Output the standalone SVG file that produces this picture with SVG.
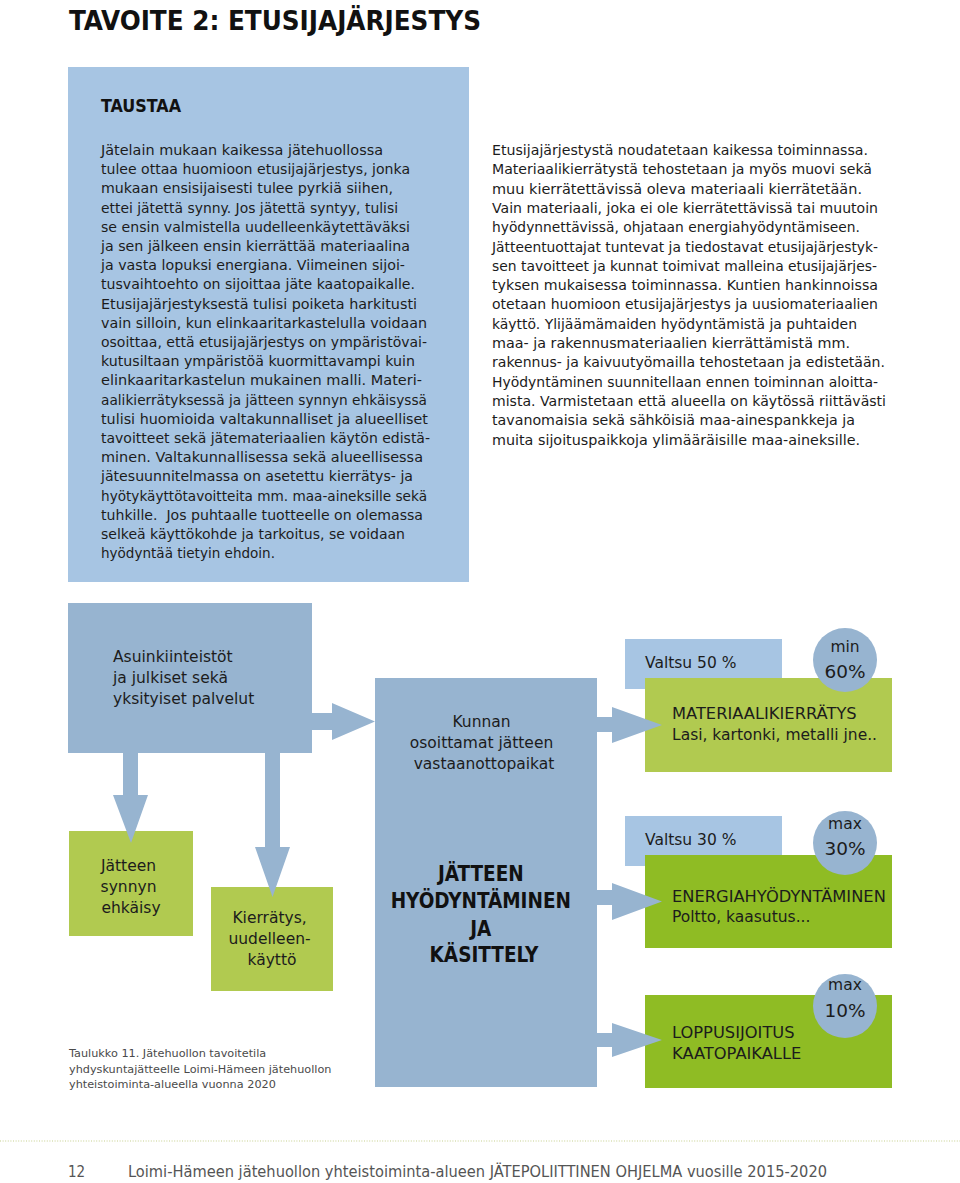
<svg xmlns="http://www.w3.org/2000/svg" width="960" height="1183" viewBox="0 0 960 1183">
<style>
  .body { font-family: "DejaVu Sans", "Liberation Sans", sans-serif; font-size: 14.3px; fill: #1c1c1c; }
  .head { font-family: "DejaVu Sans Condensed", "DejaVu Sans", sans-serif; font-weight: bold; fill: #111; }
  .lbl { font-family: "DejaVu Sans", "Liberation Sans", sans-serif; font-size: 15.5px; fill: #1c1c1c; }
  .cap { font-family: "DejaVu Sans", "Liberation Sans", sans-serif; font-size: 16.3px; fill: #1c1c1c; }
  .big { font-family: "DejaVu Sans Condensed", "DejaVu Sans", sans-serif; font-weight: bold; font-size: 20.5px; fill: #111; }
  .pct { font-family: "DejaVu Sans", "Liberation Sans", sans-serif; font-size: 18.5px; fill: #1c1c1c; }
  .small { font-family: "DejaVu Sans", "Liberation Sans", sans-serif; font-size: 11.25px; fill: #4a4a4a; }
  .foot { font-family: "DejaVu Sans Condensed", "DejaVu Sans", sans-serif; font-size: 15px; fill: #555; }
  .blue { fill: #97b4d0; }
  .lblue { fill: #a7c5e3; }
  .g1 { fill: #b1ca50; }
  .g2 { fill: #8fbc24; }
  .mid { text-anchor: middle; }
</style>

<text class="head" x="69" y="30" font-size="27.4" textLength="412" lengthAdjust="spacingAndGlyphs">TAVOITE 2: ETUSIJAJÄRJESTYS</text>

<g id="taustaa">
  <rect class="lblue" x="68" y="67" width="401" height="515"/>
  <text class="head" x="101" y="111.5" font-size="17" textLength="80" lengthAdjust="spacingAndGlyphs">TAUSTAA</text>
  <text class="body" x="101" y="155" textLength="282" lengthAdjust="spacingAndGlyphs">Jätelain mukaan kaikessa jätehuollossa</text>
  <text class="body" x="101" y="174.2" textLength="309" lengthAdjust="spacingAndGlyphs">tulee ottaa huomioon etusijajärjestys, jonka</text>
  <text class="body" x="101" y="193.4" textLength="292" lengthAdjust="spacingAndGlyphs">mukaan ensisijaisesti tulee pyrkiä siihen,</text>
  <text class="body" x="101" y="212.6" textLength="297" lengthAdjust="spacingAndGlyphs">ettei jätettä synny. Jos jätettä syntyy, tulisi</text>
  <text class="body" x="101" y="231.8" textLength="309" lengthAdjust="spacingAndGlyphs">se ensin valmistella uudelleenkäytettäväksi</text>
  <text class="body" x="101" y="251" textLength="309" lengthAdjust="spacingAndGlyphs">ja sen jälkeen ensin kierrättää materiaalina</text>
  <text class="body" x="101" y="270.2" textLength="304" lengthAdjust="spacingAndGlyphs">ja vasta lopuksi energiana. Viimeinen sijoi-</text>
  <text class="body" x="101" y="289.4" textLength="314" lengthAdjust="spacingAndGlyphs">tusvaihtoehto on sijoittaa jäte kaatopaikalle.</text>
  <text class="body" x="101" y="308.6" textLength="316" lengthAdjust="spacingAndGlyphs">Etusijajärjestyksestä tulisi poiketa harkitusti</text>
  <text class="body" x="101" y="327.8" textLength="326" lengthAdjust="spacingAndGlyphs">vain silloin, kun elinkaaritarkastelulla voidaan</text>
  <text class="body" x="101" y="347" textLength="326" lengthAdjust="spacingAndGlyphs">osoittaa, että etusijajärjestys on ympäristövai-</text>
  <text class="body" x="101" y="366.2" textLength="314" lengthAdjust="spacingAndGlyphs">kutusiltaan ympäristöä kuormittavampi kuin</text>
  <text class="body" x="101" y="385.4" textLength="321" lengthAdjust="spacingAndGlyphs">elinkaaritarkastelun mukainen malli. Materi-</text>
  <text class="body" x="101" y="404.6" textLength="326" lengthAdjust="spacingAndGlyphs">aalikierrätyksessä ja jätteen synnyn ehkäisyssä</text>
  <text class="body" x="101" y="423.8" textLength="327" lengthAdjust="spacingAndGlyphs">tulisi huomioida valtakunnalliset ja alueelliset</text>
  <text class="body" x="101" y="443" textLength="329" lengthAdjust="spacingAndGlyphs">tavoitteet sekä jätemateriaalien käytön edistä-</text>
  <text class="body" x="101" y="462.2" textLength="322" lengthAdjust="spacingAndGlyphs">minen. Valtakunnallisessa sekä alueellisessa</text>
  <text class="body" x="101" y="481.4" textLength="312" lengthAdjust="spacingAndGlyphs">jätesuunnitelmassa on asetettu kierrätys- ja</text>
  <text class="body" x="101" y="500.6" textLength="326" lengthAdjust="spacingAndGlyphs">hyötykäyttötavoitteita mm. maa-aineksille sekä</text>
  <text class="body" x="101" y="519.8" textLength="322" lengthAdjust="spacingAndGlyphs" xml:space="preserve">tuhkille.  Jos puhtaalle tuotteelle on olemassa</text>
  <text class="body" x="101" y="539" textLength="304" lengthAdjust="spacingAndGlyphs">selkeä käyttökohde ja tarkoitus, se voidaan</text>
  <text class="body" x="101" y="558.2" textLength="174" lengthAdjust="spacingAndGlyphs">hyödyntää tietyin ehdoin.</text>
</g>

<g id="body-right">
  <text class="body" x="492" y="155" textLength="376" lengthAdjust="spacingAndGlyphs">Etusijajärjestystä noudatetaan kaikessa toiminnassa.</text>
  <text class="body" x="492" y="174.3" textLength="380" lengthAdjust="spacingAndGlyphs">Materiaalikierrätystä tehostetaan ja myös muovi sekä</text>
  <text class="body" x="492" y="193.6" textLength="370" lengthAdjust="spacingAndGlyphs">muu kierrätettävissä oleva materiaali kierrätetään.</text>
  <text class="body" x="492" y="212.9" textLength="386" lengthAdjust="spacingAndGlyphs">Vain materiaali, joka ei ole kierrätettävissä tai muutoin</text>
  <text class="body" x="492" y="232.2" textLength="368" lengthAdjust="spacingAndGlyphs">hyödynnettävissä, ohjataan energiahyödyntämiseen.</text>
  <text class="body" x="492" y="251.5" textLength="386" lengthAdjust="spacingAndGlyphs">Jätteentuottajat tuntevat ja tiedostavat etusijajärjestyk-</text>
  <text class="body" x="492" y="270.8" textLength="385" lengthAdjust="spacingAndGlyphs">sen tavoitteet ja kunnat toimivat malleina etusijajärjes-</text>
  <text class="body" x="492" y="290.1" textLength="386" lengthAdjust="spacingAndGlyphs">tyksen mukaisessa toiminnassa. Kuntien hankinnoissa</text>
  <text class="body" x="492" y="309.4" textLength="386" lengthAdjust="spacingAndGlyphs">otetaan huomioon etusijajärjestys ja uusiomateriaalien</text>
  <text class="body" x="492" y="328.7" textLength="365" lengthAdjust="spacingAndGlyphs">käyttö. Ylijäämämaiden hyödyntämistä ja puhtaiden</text>
  <text class="body" x="492" y="348" textLength="358" lengthAdjust="spacingAndGlyphs">maa- ja rakennusmateriaalien kierrättämistä mm.</text>
  <text class="body" x="492" y="367.3" textLength="393" lengthAdjust="spacingAndGlyphs">rakennus- ja kaivuutyömailla tehostetaan ja edistetään.</text>
  <text class="body" x="492" y="386.6" textLength="386" lengthAdjust="spacingAndGlyphs">Hyödyntäminen suunnitellaan ennen toiminnan aloitta-</text>
  <text class="body" x="492" y="405.9" textLength="394" lengthAdjust="spacingAndGlyphs">mista. Varmistetaan että alueella on käytössä riittävästi</text>
  <text class="body" x="492" y="425.2" textLength="363" lengthAdjust="spacingAndGlyphs">tavanomaisia sekä sähköisiä maa-ainespankkeja ja</text>
  <text class="body" x="492" y="444.5" textLength="368" lengthAdjust="spacingAndGlyphs">muita sijoituspaikkoja ylimääräisille maa-aineksille.</text>
</g>

<g id="asuinkiinteistot">
  <rect class="blue" x="68" y="603" width="244" height="150"/>
  <text class="lbl">
    <tspan x="113" y="662">Asuinkiinteistöt</tspan>
    <tspan x="113" y="683">ja julkiset sekä</tspan>
    <tspan x="113" y="704">yksityiset palvelut</tspan>
  </text>
</g>

<g id="kasittely">
  <rect class="blue" x="375" y="678" width="222" height="409"/>
  <text class="lbl mid">
    <tspan x="484" y="727">Kunnan</tspan>
    <tspan x="484" y="748">osoittamat jätteen</tspan>
    <tspan x="484" y="769">vastaanottopaikat</tspan>
  </text>
  <text class="big mid">
    <tspan x="484" y="880.5">JÄTTEEN</tspan>
    <tspan x="484" y="908">HYÖDYNTÄMINEN</tspan>
    <tspan x="484" y="935.5">JA</tspan>
    <tspan x="484" y="962">KÄSITTELY</tspan>
  </text>
</g>

<g id="ehkaisy">
  <rect class="g1" x="69" y="831" width="124" height="105"/>
  <text class="lbl mid">
    <tspan x="131" y="871">Jätteen</tspan>
    <tspan x="131" y="892">synnyn</tspan>
    <tspan x="131" y="913">ehkäisy</tspan>
  </text>
</g>

<g id="kierratys">
  <rect class="g1" x="211" y="887" width="122" height="104"/>
  <text class="lbl mid">
    <tspan x="272" y="923">Kierrätys,</tspan>
    <tspan x="272" y="944">uudelleen-</tspan>
    <tspan x="272" y="965">käyttö</tspan>
  </text>
</g>

<g id="materiaali">
  <rect class="lblue" x="625" y="639" width="157" height="50"/>
  <text class="lbl" x="645" y="668" font-size="15">Valtsu 50 %</text>
  <rect class="g1" x="645" y="678" width="247" height="94"/>
  <text class="cap" x="672" y="719">MATERIAALIKIERRÄTYS</text>
  <text class="lbl" x="672" y="740">Lasi, kartonki, metalli jne..</text>
  <circle class="blue" cx="845" cy="660" r="32"/>
  <text class="lbl mid" x="845" y="652">min</text>
  <text class="pct mid" x="845" y="678">60%</text>
</g>

<g id="energia">
  <rect class="lblue" x="625" y="816" width="157" height="50"/>
  <text class="lbl" x="645" y="845" font-size="15">Valtsu 30 %</text>
  <rect class="g2" x="645" y="855" width="247" height="93"/>
  <text class="cap" x="672" y="902">ENERGIAHYÖDYNTÄMINEN</text>
  <text class="lbl" x="672" y="922">Poltto, kaasutus...</text>
  <circle class="blue" cx="845" cy="843" r="32"/>
  <text class="lbl mid" x="845" y="829">max</text>
  <text class="pct mid" x="845" y="855">30%</text>
</g>

<g id="loppusijoitus">
  <rect class="g2" x="645" y="995" width="247" height="93"/>
  <text class="cap">
    <tspan x="672" y="1038">LOPPUSIJOITUS</tspan>
    <tspan x="672" y="1059">KAATOPAIKALLE</tspan>
  </text>
  <circle class="blue" cx="845" cy="1006" r="32"/>
  <text class="lbl mid" x="845" y="990">max</text>
  <text class="pct mid" x="845" y="1017">10%</text>
</g>

<g id="connectors">
  <polygon class="blue" points="312,713 332,713 332,703 375,721.5 332,740 332,730 312,730"/>
  <polygon class="blue" points="123,753 138,753 138,795 148,795 131,843 113,795 123,795"/>
  <polygon class="blue" points="265,753 280,753 280,847 290,847 272.5,897 255,847 265,847"/>
  <polygon class="blue" points="596,717 612,717 612,707 662,725 612,743 612,732 596,732"/>
  <polygon class="blue" points="596,890 612,890 612,883 662,901.5 612,920 612,905 596,905"/>
  <polygon class="blue" points="596,1033 612,1033 612,1023 662,1040 612,1057 612,1047 596,1047"/>
</g>

<g id="caption">
  <text class="small">
    <tspan x="69" y="1057">Taulukko 11. Jätehuollon tavoitetila</tspan>
    <tspan x="69" y="1072.5">yhdyskuntajätteelle Loimi-Hämeen jätehuollon</tspan>
    <tspan x="69" y="1088">yhteistoiminta-alueella vuonna 2020</tspan>
  </text>
</g>

<g id="footer">
  <line x1="0" y1="1141" x2="960" y2="1141" stroke="#c6cf8e" stroke-width="1.2" stroke-dasharray="1,1.6"/>
  <text class="foot" x="68" y="1177">12</text>
  <text class="foot" x="128" y="1177" textLength="699" lengthAdjust="spacingAndGlyphs">Loimi-Hämeen jätehuollon yhteistoiminta-alueen JÄTEPOLIITTINEN OHJELMA vuosille 2015-2020</text>
</g>
</svg>
